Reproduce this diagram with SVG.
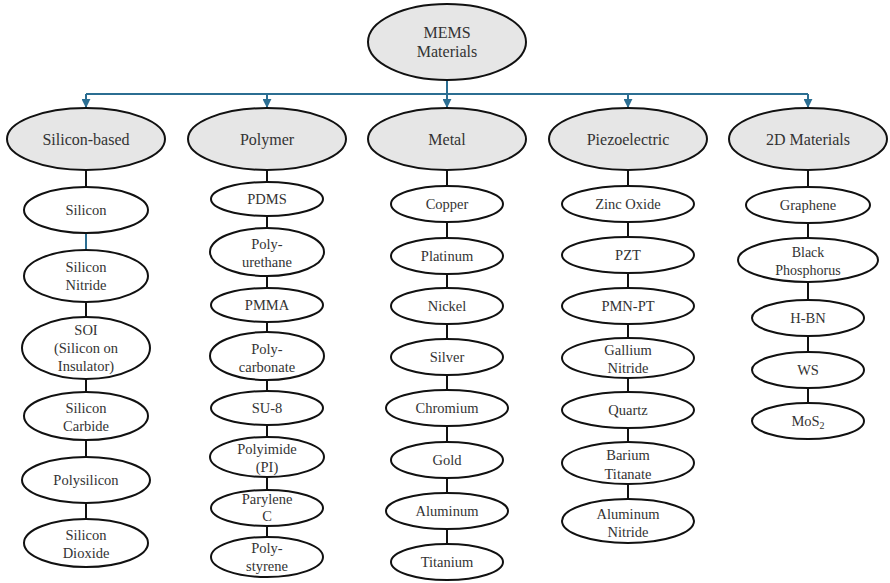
<svg xmlns="http://www.w3.org/2000/svg" width="890" height="583" viewBox="0 0 890 583">
<defs>
<style>
.root ellipse, .cat ellipse { fill: #e6e6e6; stroke: #111; stroke-width: 2; }
.leaf ellipse { fill: #ffffff; stroke: #111; stroke-width: 2; }
text { font-family: 'Liberation Serif', Tinos, 'Times New Roman', 'DejaVu Serif', serif; fill: #333; text-anchor: middle; }
.root text { font-size: 16px; }
.cat text { font-size: 16px; }
.leaf text { font-size: 14.5px; }
.blue { stroke: #2b6e92; stroke-width: 2; fill: none; }
.blk { stroke: #111; stroke-width: 2; fill: none; }
</style>
<marker id="arr" viewBox="0 0 10 10" refX="9" refY="5" markerWidth="4.5" markerHeight="4.5" orient="auto" markerUnits="strokeWidth">
<path d="M0,0 L10,5 L0,10 z" fill="#2b6e92"/>
</marker>
</defs>
<rect width="890" height="583" fill="#ffffff"/>

<g id="connectors">
<path class="blue" d="M447,80 V94 M86,94 H808"/>
<path class="blue" d="M86,94 V107" marker-end="url(#arr)"/>
<path class="blue" d="M267,94 V107" marker-end="url(#arr)"/>
<path class="blue" d="M447,94 V107" marker-end="url(#arr)"/>
<path class="blue" d="M628,94 V107" marker-end="url(#arr)"/>
<path class="blue" d="M808,94 V107" marker-end="url(#arr)"/>
<path class="blk" d="M86,170 V187"/>
<path class="blue" d="M86,233 V250"/>
<path class="blk" d="M86,302 V317 M86,379 V392 M86,440 V457 M86,503 V519"/>
<path class="blk" d="M267,170 V182 M267,216 V228 M267,276 V288 M267,322 V332 M267,380 V391 M267,425 V437 M267,477 V490 M267,526 V537"/>
<path class="blk" d="M447,170 V186 M447,222 V238 M447,274 V288 M447,324 V339 M447,375 V390 M447,426 V442 M447,478 V493 M447,529 V544"/>
<path class="blk" d="M628,170 V186 M628,222 V237 M628,273 V288 M628,324 V338 M628,378 V392 M628,428 V442 M628,484 V499"/>
<path class="blk" d="M808,170 V187 M808,223 V238 M808,282 V300 M808,336 V352 M808,388 V403"/>
</g>

<g id="root" class="root">
<ellipse cx="447" cy="42" rx="79" ry="38"/>
<text x="447" y="38">MEMS</text>
<text x="447" y="57">Materials</text>
</g>

<g id="cat-silicon" class="cat"><ellipse cx="86" cy="139" rx="79" ry="31"/><text x="86" y="144.5">Silicon-based</text></g>
<g id="cat-polymer" class="cat"><ellipse cx="267" cy="139" rx="79" ry="31"/><text x="267" y="144.5">Polymer</text></g>
<g id="cat-metal" class="cat"><ellipse cx="447" cy="139" rx="79" ry="31"/><text x="447" y="144.5">Metal</text></g>
<g id="cat-piezo" class="cat"><ellipse cx="628" cy="139" rx="79" ry="31"/><text x="628" y="144.5">Piezoelectric</text></g>
<g id="cat-2d" class="cat"><ellipse cx="808" cy="139" rx="79" ry="31"/><text x="808" y="144.5">2D Materials</text></g>

<g id="silicon" class="leaf"><ellipse cx="86" cy="210" rx="62" ry="23"/><text x="86" y="215">Silicon</text></g>
<g id="silicon-nitride" class="leaf"><ellipse cx="86" cy="276" rx="62" ry="26"/><text x="86" y="272">Silicon</text><text x="86" y="290">Nitride</text></g>
<g id="soi" class="leaf"><ellipse cx="86" cy="348" rx="64" ry="31"/><text x="86" y="335">SOI</text><text x="86" y="353">(Silicon on</text><text x="86" y="371">Insulator)</text></g>
<g id="silicon-carbide" class="leaf"><ellipse cx="86" cy="416" rx="62" ry="24"/><text x="86" y="413">Silicon</text><text x="86" y="431">Carbide</text></g>
<g id="polysilicon" class="leaf"><ellipse cx="86" cy="480" rx="64" ry="23"/><text x="86" y="485">Polysilicon</text></g>
<g id="silicon-dioxide" class="leaf"><ellipse cx="86" cy="543" rx="62" ry="24"/><text x="86" y="540">Silicon</text><text x="86" y="558">Dioxide</text></g>

<g id="pdms" class="leaf"><ellipse cx="267" cy="199" rx="56" ry="17"/><text x="267" y="204">PDMS</text></g>
<g id="polyurethane" class="leaf"><ellipse cx="267" cy="252" rx="57" ry="24"/><text x="267" y="249">Poly-</text><text x="267" y="267">urethane</text></g>
<g id="pmma" class="leaf"><ellipse cx="267" cy="305" rx="56" ry="17"/><text x="267" y="310">PMMA</text></g>
<g id="polycarbonate" class="leaf"><ellipse cx="267" cy="356" rx="57" ry="24"/><text x="267" y="354">Poly-</text><text x="267" y="372">carbonate</text></g>
<g id="su8" class="leaf"><ellipse cx="267" cy="408" rx="56" ry="17"/><text x="267" y="413">SU-8</text></g>
<g id="polyimide" class="leaf"><ellipse cx="267" cy="457" rx="57" ry="20"/><text x="267" y="454">Polyimide</text><text x="267" y="472">(PI)</text></g>
<g id="parylene" class="leaf"><ellipse cx="267" cy="508" rx="56" ry="18"/><text x="267" y="504">Parylene</text><text x="267" y="521">C</text></g>
<g id="polystyrene" class="leaf"><ellipse cx="267" cy="557" rx="56" ry="20"/><text x="267" y="553">Poly-</text><text x="267" y="571">styrene</text></g>

<g id="copper" class="leaf"><ellipse cx="447" cy="204" rx="56" ry="18"/><text x="447" y="209">Copper</text></g>
<g id="platinum" class="leaf"><ellipse cx="447" cy="256" rx="56" ry="18"/><text x="447" y="261">Platinum</text></g>
<g id="nickel" class="leaf"><ellipse cx="447" cy="306" rx="56" ry="18"/><text x="447" y="311">Nickel</text></g>
<g id="silver" class="leaf"><ellipse cx="447" cy="357" rx="56" ry="18"/><text x="447" y="362">Silver</text></g>
<g id="chromium" class="leaf"><ellipse cx="447" cy="408" rx="61" ry="18"/><text x="447" y="413">Chromium</text></g>
<g id="gold" class="leaf"><ellipse cx="447" cy="460" rx="56" ry="18"/><text x="447" y="465">Gold</text></g>
<g id="aluminum" class="leaf"><ellipse cx="447" cy="511" rx="61" ry="18"/><text x="447" y="516">Aluminum</text></g>
<g id="titanium" class="leaf"><ellipse cx="447" cy="562" rx="56" ry="18"/><text x="447" y="567">Titanium</text></g>

<g id="zinc-oxide" class="leaf"><ellipse cx="628" cy="204" rx="66" ry="18"/><text x="628" y="209">Zinc Oxide</text></g>
<g id="pzt" class="leaf"><ellipse cx="628" cy="255" rx="66" ry="18"/><text x="628" y="260">PZT</text></g>
<g id="pmn-pt" class="leaf"><ellipse cx="628" cy="306" rx="66" ry="18"/><text x="628" y="311">PMN-PT</text></g>
<g id="gallium-nitride" class="leaf"><ellipse cx="628" cy="358" rx="66" ry="20"/><text x="628" y="355">Gallium</text><text x="628" y="373">Nitride</text></g>
<g id="quartz" class="leaf"><ellipse cx="628" cy="410" rx="66" ry="18"/><text x="628" y="415">Quartz</text></g>
<g id="barium-titanate" class="leaf"><ellipse cx="628" cy="463" rx="66" ry="21"/><text x="628" y="460">Barium</text><text x="628" y="479">Titanate</text></g>
<g id="aluminum-nitride" class="leaf"><ellipse cx="628" cy="521" rx="66" ry="22"/><text x="628" y="519">Aluminum</text><text x="628" y="537">Nitride</text></g>

<g id="graphene" class="leaf"><ellipse cx="808" cy="205" rx="62" ry="18"/><text x="808" y="210">Graphene</text></g>
<g id="black-phosphorus" class="leaf"><ellipse cx="808" cy="260" rx="70" ry="22"/><text x="808" y="257" style="font-size:14px">Black</text><text x="808" y="275" style="font-size:14px">Phosphorus</text></g>
<g id="h-bn" class="leaf"><ellipse cx="808" cy="318" rx="56" ry="18"/><text x="808" y="323">H-BN</text></g>
<g id="ws" class="leaf"><ellipse cx="808" cy="370" rx="56" ry="18"/><text x="808" y="375">WS</text></g>
<g id="mos2" class="leaf"><ellipse cx="808" cy="421" rx="56" ry="18"/><text x="808" y="426">MoS<tspan dy="3" style="font-size:10px">2</tspan></text></g>
</svg>
